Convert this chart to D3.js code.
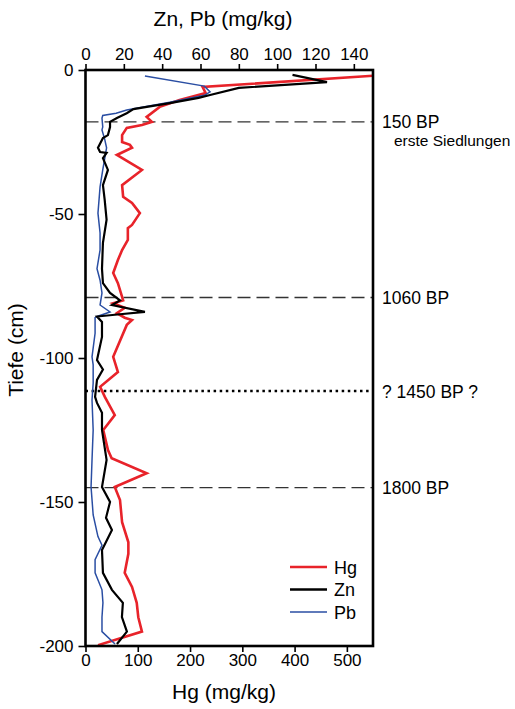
<!DOCTYPE html>
<html>
<head>
<meta charset="utf-8">
<script src="https://cdn.jsdelivr.net/npm/d3@7"></script>
<style>
  body { margin: 0; background: #fff; }
  text { font-family: "Liberation Sans", Arial, sans-serif; fill: #000; }
</style>
</head>
<body>
<div id="container"></div>
<script>
const width = 515;
const height = 709;
const margin = { top: 70, right: 142, bottom: 63, left: 85.5 };

// Hg (bottom axis)
const hgDepth = [-2, -5.9, -8, -10.4, -12.8, -16.3, -18, -19.1, -20.1, -22.6, -25, -26, -27, -29.5, -34.7, -40, -44, -46.2, -49.7, -53.8, -54.9, -59, -62.5, -66, -70.5, -74, -78.8, -80, -81, -82.6, -84.4, -86, -86.8, -88.5, -99.6, -104.9, -110, -113.5, -119.8, -125, -132, -134.8, -140, -144.8, -149.3, -157, -164, -168, -174.6, -179.5, -185, -190, -195, -199.7];
const hgValue = [550, 224, 230, 180, 142, 117, 127, 108, 79, 70, 70, 85, 89, 60, 108, 70, 72, 89, 104, 89, 81, 81, 70, 62, 53, 62, 70, 72, 53, 75, 60, 75, 89, 79, 53, 62, 28, 37, 56, 34, 43, 50, 117, 56, 66, 70, 82, 82, 75, 89, 98, 101, 108, 24];

// Zn (top axis)
const znDepth = [-1.7, -4.2, -6.2, -8.7, -9.7, -11.5, -12.8, -13.6, -15, -16.7, -18, -19.8, -22.6, -23.6, -27, -28.5, -28.8, -30.6, -34.7, -40, -45, -52, -60, -69, -74, -77.4, -80, -81.6, -84, -84.8, -85.6, -87.5, -92.7, -100.7, -104, -107.6, -113.5, -115.6, -119, -125, -135.4, -144.8, -150, -155.5, -159.7, -166.7, -174.6, -180.5, -185, -190, -195, -199.3];
const znValue = [108, 126, 80, 65, 59, 44, 32, 25, 21.5, 16.4, 12.8, 12.8, 11.7, 9.1, 6.5, 7.6, 11, 9.1, 11.7, 9.1, 10, 11, 9.1, 8.6, 9.1, 12.8, 18, 13.8, 31, 18, 6, 8.6, 8.6, 6, 9.1, 6, 5, 6, 8.6, 8.6, 11, 8.6, 12.8, 10.7, 13.8, 8.6, 9.1, 13.8, 19.5, 19, 21.6, 16.4];

// Pb (top axis)
const pbDepth = [-2.1, -5.6, -7.6, -8.8, -11.2, -13.9, -15, -15.8, -16.7, -19.8, -20.8, -24, -27, -34.7, -40.6, -49.7, -56.6, -62.5, -69, -73, -77.4, -81.6, -84, -85.6, -86, -91.4, -99.6, -102.4, -108.7, -114.6, -125, -135.4, -144.8, -154.5, -162, -165, -170, -174.6, -180.5, -185, -190, -195, -199.3];
const pbValue = [31, 62, 65, 62, 44, 21.5, 16, 9, 8.6, 9, 8.6, 10, 11, 9, 7.6, 6.5, 7.6, 7.6, 6, 7.6, 8.6, 7.6, 12.8, 6, 5, 5, 3.4, 4, 4, 3.4, 4, 3.4, 2.9, 4, 6.5, 8.6, 5, 5, 8.6, 9.1, 8.6, 8.6, 15.4];

const hgTicks = [0, 100, 200, 300, 400, 500];
const znTicks = [0, 20, 40, 60, 80, 100, 120, 140];
const depthTicks = [0, -50, -100, -150, -200];

const markerDepth = [-18, -79, -111.5, -145];
const markerLabel = ["150 BP", "1060 BP", "? 1450 BP ?", "1800 BP"];
const markerStyle = ["dashed", "dashed", "dotted", "dashed"];

const legendNames = ["Hg", "Zn", "Pb"];
const legendColors = ["#e8232a", "#000000", "#2a4ea3"];

const x0 = margin.left, x1 = width - margin.right;
const y0 = margin.top, y1 = height - margin.bottom;

const xHg = d3.scaleLinear().domain([0, 550]).range([x0, x1]);
const xZn = d3.scaleLinear().domain([0, 150]).range([x0, x1]);
const y = d3.scaleLinear().domain([0, -200]).range([y0, y1]);

const svg = d3.select("#container")
  .append("svg")
  .attr("width", width)
  .attr("height", height);

svg.append("clipPath").attr("id", "plot")
  .append("rect")
  .attr("x", x0).attr("y", y0)
  .attr("width", x1 - x0).attr("height", y1 - y0);

// marker lines
markerDepth.forEach((d, i) => {
  svg.append("line")
    .attr("x1", x0).attr("x2", x1)
    .attr("y1", y(d)).attr("y2", y(d))
    .attr("stroke", markerStyle[i] === "dotted" ? "#000" : "#333")
    .attr("stroke-width", markerStyle[i] === "dotted" ? 2.5 : 1.4)
    .attr("stroke-dasharray", markerStyle[i] === "dotted" ? "2.5,3.6" : "13,6");
  svg.append("text")
    .attr("x", 382)
    .attr("y", y(d) + 6.5)
    .attr("font-size", 17.5)
    .text(markerLabel[i]);
});
svg.append("text")
  .attr("x", 394)
  .attr("y", y(markerDepth[0]) + 24)
  .attr("font-size", 15.5)
  .text("erste Siedlungen");

// series
const line = d3.line();
const series = [
  { depth: hgDepth, value: hgValue, x: xHg, color: legendColors[0], w: 2.6 },
  { depth: pbDepth, value: pbValue, x: xZn, color: legendColors[2], w: 1.5 },
  { depth: znDepth, value: znValue, x: xZn, color: legendColors[1], w: 2.2 }
];
series.forEach(s => {
  svg.append("path")
    .attr("clip-path", "url(#plot)")
    .attr("d", line(s.depth.map((d, i) => [s.x(s.value[i]), y(d)])))
    .attr("fill", "none")
    .attr("stroke", s.color)
    .attr("stroke-width", s.w)
    .attr("stroke-linejoin", "miter");
});

// frame
svg.append("rect")
  .attr("x", x0).attr("y", y0)
  .attr("width", x1 - x0).attr("height", y1 - y0)
  .attr("fill", "none")
  .attr("stroke", "#000")
  .attr("stroke-width", 2.6);

// axes
const styleAxis = g => {
  g.select(".domain").remove();
  g.selectAll(".tick line").attr("stroke-width", 1.6);
  g.selectAll(".tick text").attr("font-size", 17).attr("font-family", "Liberation Sans, Arial, sans-serif");
};
const plain = d => String(d);

svg.append("g")
  .attr("transform", `translate(0,${y1})`)
  .call(d3.axisBottom(xHg).tickValues(hgTicks).tickFormat(plain).tickSize(6).tickPadding(2))
  .call(styleAxis);

svg.append("g")
  .attr("transform", `translate(0,${y0})`)
  .call(d3.axisTop(xZn).tickValues(znTicks).tickFormat(plain).tickSize(6).tickPadding(4))
  .call(styleAxis);

svg.append("g")
  .attr("transform", `translate(${x0},0)`)
  .call(d3.axisLeft(y).tickValues(depthTicks).tickFormat(plain).tickSize(7).tickPadding(5))
  .call(styleAxis);

// axis titles
svg.append("text")
  .attr("x", 223).attr("y", 26)
  .attr("text-anchor", "middle")
  .attr("font-size", 21)
  .text("Zn, Pb (mg/kg)");

svg.append("text")
  .attr("x", 224).attr("y", 699)
  .attr("text-anchor", "middle")
  .attr("font-size", 21)
  .text("Hg (mg/kg)");

svg.append("text")
  .attr("transform", "translate(23,350) rotate(-90)")
  .attr("text-anchor", "middle")
  .attr("font-size", 21)
  .text("Tiefe (cm)");

// legend
legendNames.forEach((n, i) => {
  const ly = 567 + i * 22.5;
  svg.append("line")
    .attr("x1", 290).attr("x2", 327)
    .attr("y1", ly).attr("y2", ly)
    .attr("stroke", legendColors[i])
    .attr("stroke-width", i === 2 ? 1.6 : 2.4);
  svg.append("text")
    .attr("x", 334).attr("y", ly + 6.5)
    .attr("font-size", 18)
    .text(n);
});
</script>
</body>
</html>
